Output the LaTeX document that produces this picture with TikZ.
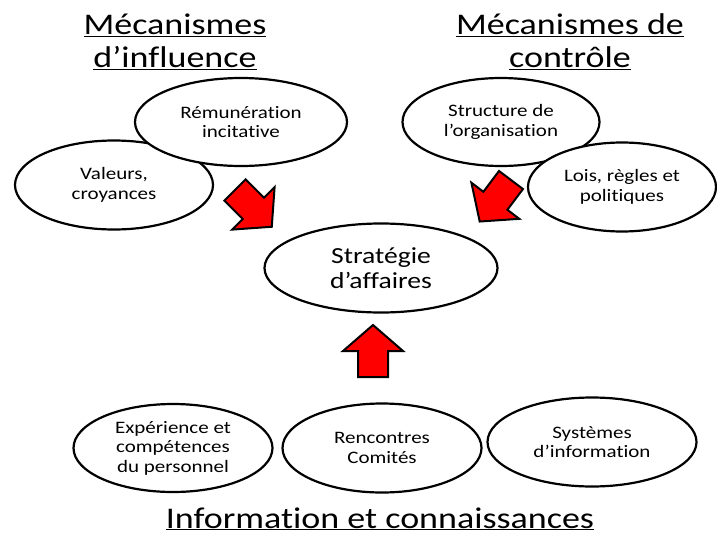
\documentclass[tikz,border=0pt]{standalone}
\usepackage{fontspec}
\setmainfont[FakeStretch=1.2, Ligatures={NoCommon}]{Carlito}
\usetikzlibrary{shapes.geometric}

\begin{document}
\begin{tikzpicture}[x=1pt, y=-1pt,
    bulle/.style={ellipse, draw, line width=2.2pt, fill=white, inner sep=0pt, align=center,
        font=\fontsize{17.5}{19.5}\selectfont},
    titre/.style={align=center, font=\fontsize{30}{33}\selectfont},
    fleche/.pic={\draw[line width=2pt, fill=red, line join=miter]
        (0,-15) -- (26,-15) -- (26,-30) -- (52,0) -- (26,30) -- (26,15) -- (0,15) -- cycle;}]

    \useasboundingbox (0,0) rectangle (717,541);

    \node[titre] (ti) at (175,42) {\underline{Mécanismes}\\\underline{d’influence}};
    \node[titre] (tc) at (570,42) {\underline{Mécanismes de}\\\underline{contrôle}};
    \node[titre, anchor=base] (tn) at (380,528) {\underline{Information et connaissances}};

    \node[bulle, minimum width=198pt, minimum height=89pt] (val) at (114,185) {Valeurs,\\croyances};
    \node[bulle, minimum width=212pt, minimum height=88pt] (rem) at (241,122) {Rémunération\\incitative};
    \node[bulle, minimum width=197pt, minimum height=88pt] (str) at (501,122) {Structure de\\l’organisation};
    \node[bulle, minimum width=188pt, minimum height=89pt] (lois) at (622,187) {Lois, règles et\\politiques};
    \node[bulle, minimum width=233pt, minimum height=89pt, font=\fontsize{23}{25}\selectfont] (strat) at (381,268) {Stratégie\\d’affaires};
    \node[bulle, minimum width=199pt, minimum height=88pt] (exp) at (173,448) {Expérience et\\compétences\\du personnel};
    \node[bulle, minimum width=199pt, minimum height=89pt] (ren) at (382,448) {Rencontres\\Comités};
    \node[bulle, minimum width=209pt, minimum height=89pt] (sys) at (592,442) {Systèmes\\d’information};

    \pic[rotate=-45] at (235,190) {fleche};
    \pic[rotate=-127] at (511,180) {fleche};
    \pic[rotate=90] at (373,377) {fleche};

\end{tikzpicture}
\end{document}
